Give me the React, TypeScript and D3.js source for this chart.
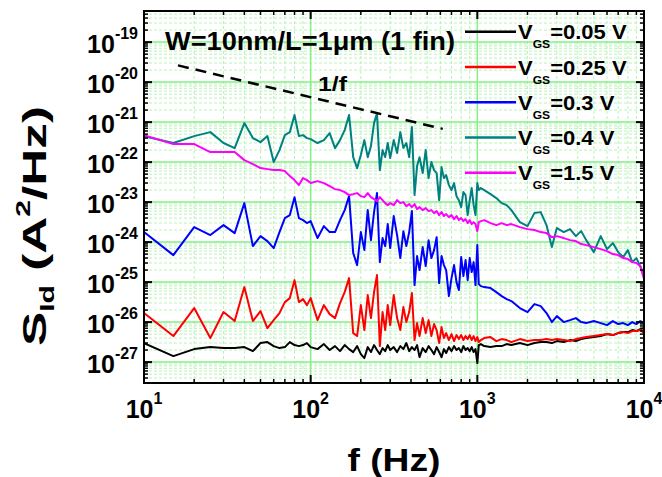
import React from 'react';
import * as d3 from 'd3';

// Frequencies (Hz), shared by all series
const freqs = [
  10, 15, 20, 25, 30, 35, 40, 45, 50, 55, 60, 65, 70, 75, 80, 85, 90, 95,
  100, 110, 120, 130, 140, 150, 160, 170, 180, 190, 200, 210, 220, 230, 240, 250, 260, 270, 280, 290, 300,
  315, 330, 345, 360, 375, 390, 405, 420, 435, 450,
  470, 490, 510, 530, 550, 570, 590, 610, 630, 650,
  675, 700, 725, 750, 775, 800, 825, 850, 875, 900, 925, 950, 975, 1000, 1020,
  1050, 1100, 1200, 1300, 1400, 1500, 1600, 1800, 2000, 2200, 2400, 2600, 2800, 3000, 3300, 3600, 3900, 4200, 4500, 5000,
  5500, 6000, 6500, 7000, 7500, 8000, 8500, 9000, 9500, 10000,
];

// S_Id (A^2/Hz) for VGS = 0.05 V
const sVgs005 = [
  2.99e-27, 1.41e-27, 2.11e-27, 2.37e-27, 2.24e-27, 2.24e-27, 2.37e-27, 1.88e-27, 2.99e-27, 3.16e-27, 2.51e-27, 2.24e-27, 2.37e-27, 3.16e-27, 2.66e-27, 2.51e-27, 2.66e-27, 2.99e-27,
  2.37e-27, 2.11e-27, 2.82e-27, 2.0e-27, 2.51e-27, 1.88e-27, 2.66e-27, 2.11e-27, 1.78e-27, 2.51e-27, 1.58e-27, 1.26e-27, 2.37e-27, 1.78e-27, 2.66e-27, 2.0e-27, 1.58e-27, 2.24e-27, 1.88e-27, 2.66e-27, 2.0e-27,
  2.37e-27, 1.78e-27, 2.51e-27, 2.11e-27, 2.99e-27, 1.88e-27, 2.37e-27, 2.0e-27, 2.66e-27, 1.33e-27,
  2.24e-27, 1.78e-27, 2.51e-27, 2.0e-27, 1.58e-27, 2.37e-27, 1.78e-27, 1.33e-27, 2.11e-27, 1.68e-27,
  2.37e-27, 1.88e-27, 2.51e-27, 2.0e-27, 2.24e-27, 1.78e-27, 2.51e-27, 2.0e-27, 2.24e-27, 1.88e-27, 2.37e-27, 1.78e-27, 2.11e-27, 9.44e-28, 2.66e-27,
  2.82e-27, 2.51e-27, 2.37e-27, 2.51e-27, 2.51e-27, 2.82e-27, 2.66e-27, 2.99e-27, 2.66e-27, 2.99e-27, 3.16e-27, 3.16e-27, 2.99e-27, 3.35e-27, 3.16e-27, 3.55e-27, 3.35e-27, 3.76e-27, 3.98e-27, 4.22e-27,
  4.47e-27, 5.01e-27, 4.73e-27, 5.31e-27, 5.62e-27, 5.62e-27, 6.31e-27, 5.96e-27, 6.68e-27, 7.08e-27,
];

// VGS = 0.25 V
const sVgs025 = [
  1.68e-26, 4.47e-27, 2.24e-26, 3.98e-27, 1.78e-26, 1.06e-26, 7.5e-26, 1.06e-26, 1.88e-26, 7.08e-27, 1.12e-26, 1.68e-26, 3.16e-26, 3.98e-26, 1.12e-25, 3.16e-26, 3.76e-26, 2.66e-26,
  3.98e-26, 1.12e-26, 2.66e-26, 1.58e-26, 1.26e-26, 2.99e-26, 5.62e-26, 1.26e-25, 5.31e-27, 4.47e-27, 2.66e-26, 6.31e-27, 4.73e-26, 1.26e-26, 5.62e-26, 1.5e-25, 2.51e-27, 1.78e-26, 6.31e-27, 2.66e-26, 8.41e-27,
  4.73e-26, 1.26e-26, 6.31e-27, 2.37e-26, 1.0e-26, 1.78e-26, 5.31e-26, 3.55e-27, 9.44e-27, 4.47e-27,
  1.26e-26, 5.31e-27, 1.12e-26, 4.47e-27, 8.91e-27, 6.31e-27, 2.99e-27, 7.5e-27, 3.98e-27, 5.31e-27,
  3.55e-27, 5.01e-27, 3.35e-27, 4.73e-27, 3.76e-27, 4.73e-27, 3.55e-27, 4.47e-27, 3.76e-27, 4.73e-27, 3.55e-27, 4.47e-27, 3.35e-27, 4.22e-27, 3.16e-27,
  3.55e-27, 3.98e-27, 4.22e-27, 3.35e-27, 3.76e-27, 3.55e-27, 3.16e-27, 3.76e-27, 3.35e-27, 3.55e-27, 3.55e-27, 3.76e-27, 3.55e-27, 3.76e-27, 3.55e-27, 3.35e-27, 3.76e-27, 3.98e-27, 4.22e-27, 4.47e-27,
  4.73e-27, 5.01e-27, 4.73e-27, 5.31e-27, 5.62e-27, 5.31e-27, 5.96e-27, 5.96e-27, 6.31e-27, 5.31e-27,
];

// VGS = 0.3 V
const sVgs03 = [
  1.78e-24, 4.73e-25, 2.37e-24, 1.5e-24, 2.66e-24, 1.68e-24, 9.44e-24, 7.94e-25, 1.41e-24, 1.06e-24, 7.08e-25, 1.78e-24, 3.98e-24, 4.73e-24, 1.33e-23, 3.98e-24, 3.55e-24, 2.99e-24,
  3.35e-24, 1.26e-24, 2.51e-24, 1.78e-24, 1.78e-24, 3.55e-24, 6.31e-24, 1.41e-23, 5.31e-25, 2.66e-25, 1.78e-24, 6.31e-25, 6.31e-24, 1.12e-24, 5.62e-24, 1.68e-23, 3.16e-25, 1.26e-24, 7.94e-25, 2.82e-24, 7.08e-25,
  4.47e-24, 1.5e-24, 3.98e-25, 1.88e-24, 7.94e-25, 1.78e-24, 5.96e-24, 8.41e-26, 4.47e-25, 2.0e-25,
  7.5e-25, 2.51e-25, 1.12e-24, 3.98e-25, 6.31e-25, 1.33e-24, 9.44e-26, 4.47e-25, 2.66e-25, 2.0e-25,
  4.47e-26, 1.26e-25, 2.66e-25, 1.0e-25, 6.31e-26, 4.22e-25, 1.41e-25, 3.55e-25, 1.12e-25, 3.98e-25, 1.78e-25, 3.16e-25, 8.41e-26, 8.41e-25, 8.91e-26,
  7.94e-26, 7.5e-26, 7.08e-26, 5.62e-26, 4.47e-26, 3.76e-26, 3.35e-26, 2.24e-26, 1.78e-26, 2.82e-26, 2.51e-26, 1.68e-26, 1.0e-26, 1.41e-26, 1.0e-26, 1.12e-26, 1.26e-26, 1.0e-26, 9.44e-27, 1.06e-26,
  9.44e-27, 8.41e-27, 1.06e-26, 8.91e-27, 9.44e-27, 8.41e-27, 1.0e-26, 8.91e-27, 1.06e-26, 9.44e-27,
];

// VGS = 0.4 V
const sVgs04 = [
  4.47e-22, 3.0e-22, 4.47e-22, 5.62e-22, 3.0e-22, 2.24e-22, 9.44e-22, 3.98e-22, 3.16e-22, 4.47e-22, 1.0e-22, 2.0e-22, 4.73e-22, 5.62e-22, 1.5e-21, 4.47e-22, 4.73e-22, 3.98e-22,
  3.76e-22, 3.0e-22, 3.55e-22, 5.31e-22, 2.24e-22, 3.55e-22, 6.31e-22, 1.5e-21, 1.33e-22, 7.08e-23, 1.5e-22, 3.55e-22, 1.33e-22, 2.51e-22, 9.44e-22, 1.68e-21, 6.31e-23, 2.0e-22, 1.33e-22, 3.0e-22, 1.26e-22,
  3.55e-22, 1.68e-22, 5.62e-22, 2.24e-22, 3.0e-22, 1.33e-22, 7.5e-22, 1.5e-23, 7.94e-23, 1.33e-22,
  5.31e-23, 2.0e-22, 3.98e-23, 1.0e-22, 6.31e-23, 5.31e-23, 1.12e-23, 7.5e-23, 3.98e-23, 4.73e-23,
  2.66e-23, 2.0e-23, 2.99e-23, 1.41e-23, 1.12e-23, 7.5e-24, 1.78e-23, 1.5e-23, 4.73e-24, 1.12e-23, 2.24e-23, 8.41e-24, 4.73e-24, 2.99e-23, 2.0e-23,
  2.24e-23, 2.0e-23, 1.58e-23, 1.26e-23, 9.44e-24, 8.41e-24, 6.31e-24, 3.16e-24, 2.51e-24, 5.31e-24, 5.62e-24, 2.66e-24, 7.5e-25, 2.24e-24, 1.78e-24, 2.11e-24, 1.41e-24, 1.88e-24, 1.12e-24, 5.62e-25,
  1.41e-24, 6.68e-25, 9.44e-25, 5.62e-25, 4.22e-25, 6.31e-25, 3.16e-25, 3.98e-25, 2.51e-25, 1.5e-25,
];

// VGS = 1.5 V
const sVgs15 = [
  4.73e-22, 2.82e-22, 2.82e-22, 1.78e-22, 1.78e-22, 1.78e-22, 1.12e-22, 8.91e-23, 7.08e-23, 6.68e-23, 6.31e-23, 6.31e-23, 5.96e-23, 4.47e-23, 3.55e-23, 2.66e-23, 3.98e-23, 3.55e-23,
  2.99e-23, 3.35e-23, 2.99e-23, 2.51e-23, 2.11e-23, 2.0e-23, 1.78e-23, 1.5e-23, 1.58e-23, 1.68e-23, 1.41e-23, 1.33e-23, 1.68e-23, 1.33e-23, 1.19e-23, 1.06e-23, 1.33e-23, 1.12e-23, 9.44e-24, 8.41e-24, 9.44e-24,
  8.41e-24, 1.12e-23, 9.44e-24, 1.0e-23, 7.94e-24, 8.91e-24, 7.5e-24, 8.91e-24, 6.68e-24, 7.5e-24,
  6.31e-24, 7.08e-24, 5.96e-24, 6.31e-24, 5.31e-24, 5.96e-24, 4.73e-24, 5.62e-24, 4.47e-24, 5.01e-24,
  4.22e-24, 4.73e-24, 3.76e-24, 4.47e-24, 3.55e-24, 3.98e-24, 3.35e-24, 3.76e-24, 2.99e-24, 3.55e-24, 2.82e-24, 3.16e-24, 2.82e-24, 1.88e-24, 3.16e-24,
  3.35e-24, 3.55e-24, 2.99e-24, 2.66e-24, 2.99e-24, 2.66e-24, 2.82e-24, 2.37e-24, 2.11e-24, 2.0e-24, 1.78e-24, 1.68e-24, 1.33e-24, 1.41e-24, 1.26e-24, 1.12e-24, 1.06e-24, 8.91e-25, 8.41e-25, 7.5e-25,
  6.68e-25, 5.96e-25, 5.01e-25, 4.73e-25, 3.98e-25, 3.76e-25, 3.16e-25, 2.99e-25, 2.51e-25, 1.19e-25,
];

const seriesValues = [sVgs005, sVgs025, sVgs03, sVgs04, sVgs15];
const seriesLabels = ['0.05', '0.25', '0.3', '0.4', '1.5'];
const seriesColors = ['#000000', '#ff0000', '#0000ff', '#008080', '#ff00ff'];

// 1/f reference line
const refFreqs = [16, 620];
const refValues = [2.62e-20, 6.77e-22];

const xTickExps = [1, 2, 3, 4];
const yTickExps = [-27, -26, -25, -24, -23, -22, -21, -20, -19];

const W = 662;
const H = 477;
const L = 144, R = 644, T = 11, B = 383;
const FONT = '"Liberation Sans", Arial, Helvetica, sans-serif';

export default function App() {
  const x = d3.scaleLog().domain([10, 1e4]).range([L, R]);
  const y = d3.scaleLog().domain([3e-28, 6e-19]).range([B, T]);

  const xMajor = [10, 100, 1000, 10000];
  const xMinor: number[] = [];
  [10, 100, 1000].forEach((d) => { for (let k = 2; k <= 9; k++) xMinor.push(k * d); });
  const yMajor: number[] = yTickExps.map((e) => Math.pow(10, e));
  const yMinor: number[] = [];
  for (let e = -28; e <= -19; e++) {
    for (let k = 2; k <= 9; k++) {
      const v = k * Math.pow(10, e);
      if (v >= 3e-28 && v <= 6e-19) yMinor.push(v);
    }
  }

  const line = d3.line<number>()
    .x((_, i) => x(freqs[i]))
    .y((d) => y(d));

  const refLine = d3.line<number>()
    .x((_, i) => x(refFreqs[i]))
    .y((d) => y(d));

  const majorGrid = '#86ef86';
  const minorGrid = '#b9f3b9';

  return (
    <svg width={W} height={H} style={{ position: 'absolute', left: 0, top: 0, background: '#fff' }} fontFamily={FONT}>
      <defs>
        <clipPath id="plot">
          <rect x={L} y={T} width={R - L} height={B - T} />
        </clipPath>
      </defs>
      <rect x={0} y={0} width={W} height={H} fill="#fff" />
      {/* minor grid */}
      {xMinor.map((v, i) => (
        <line key={'xm' + i} x1={x(v)} x2={x(v)} y1={T} y2={B} stroke={minorGrid} strokeWidth={1} strokeDasharray="3,2" />
      ))}
      {yMinor.map((v, i) => (
        <line key={'ym' + i} x1={L} x2={R} y1={y(v)} y2={y(v)} stroke={minorGrid} strokeWidth={1} strokeDasharray="3,2" />
      ))}
      {/* major grid */}
      {xMajor.map((v, i) => (
        <line key={'xM' + i} x1={x(v)} x2={x(v)} y1={T} y2={B} stroke={majorGrid} strokeWidth={1.5} />
      ))}
      {yMajor.map((v, i) => (
        <line key={'yM' + i} x1={L} x2={R} y1={y(v)} y2={y(v)} stroke={majorGrid} strokeWidth={1.5} />
      ))}

      {/* series */}
      <g clipPath="url(#plot)">
        {seriesValues.map((vals, i) => (
          <path key={'s' + i} d={line(vals) || ''} fill="none" stroke={seriesColors[i]} strokeWidth={2} strokeLinejoin="round" />
        ))}
        <path d={refLine(refValues) || ''} fill="none" stroke="#000" strokeWidth={2.5} strokeDasharray="11,7" />
      </g>

      {/* frame and ticks */}
      <rect x={L} y={T} width={R - L} height={B - T} fill="none" stroke="#000" strokeWidth={2} />
      {xMajor.map((v, i) => (
        <g key={'xt' + i}>
          <line x1={x(v)} x2={x(v)} y1={B} y2={B - 8} stroke="#000" strokeWidth={2} />
          <line x1={x(v)} x2={x(v)} y1={T} y2={T + 8} stroke="#000" strokeWidth={2} />
        </g>
      ))}
      {xMinor.map((v, i) => (
        <g key={'xmt' + i}>
          <line x1={x(v)} x2={x(v)} y1={B} y2={B - 4} stroke="#000" strokeWidth={1.5} />
          <line x1={x(v)} x2={x(v)} y1={T} y2={T + 4} stroke="#000" strokeWidth={1.5} />
        </g>
      ))}
      {yMajor.map((v, i) => (
        <g key={'yt' + i}>
          <line x1={L} x2={L + 8} y1={y(v)} y2={y(v)} stroke="#000" strokeWidth={2} />
          <line x1={R} x2={R - 8} y1={y(v)} y2={y(v)} stroke="#000" strokeWidth={2} />
        </g>
      ))}
      {yMinor.map((v, i) => (
        <g key={'ymt' + i}>
          <line x1={L} x2={L + 4} y1={y(v)} y2={y(v)} stroke="#000" strokeWidth={1.5} />
          <line x1={R} x2={R - 4} y1={y(v)} y2={y(v)} stroke="#000" strokeWidth={1.5} />
        </g>
      ))}

      {/* tick labels */}
      {yTickExps.map((e, i) => (
        <text key={'yl' + i} x={138} y={y(Math.pow(10, e)) + 10.5} textAnchor="end" fontSize={25} fontWeight="bold">
          10<tspan fontSize={16} dy={-14}>{String(e)}</tspan>
        </text>
      ))}
      {xTickExps.map((e, i) => (
        <text key={'xl' + i} x={x(Math.pow(10, e))} y={418} textAnchor="middle" fontSize={25} fontWeight="bold">
          10<tspan fontSize={16} dy={-14}>{String(e)}</tspan>
        </text>
      ))}

      {/* axis titles */}
      <text x={394} y={471} textAnchor="middle" fontSize={32} fontWeight="bold" textLength={93} lengthAdjust="spacingAndGlyphs">f (Hz)</text>
      <text transform="translate(46,226) rotate(-90)" textAnchor="middle" fontSize={34} fontWeight="bold" textLength={240} lengthAdjust="spacingAndGlyphs">
        S<tspan fontSize={20} dy={8}>Id</tspan><tspan dy={-8}> (A</tspan><tspan fontSize={20} dy={-16}>2</tspan><tspan dy={16}>/Hz)</tspan>
      </text>

      {/* annotations */}
      <text x={165} y={50} fontSize={25} fontWeight="bold" textLength={290} lengthAdjust="spacingAndGlyphs">W=10nm/L=1μm (1 fin)</text>
      <text x={318} y={91} fontSize={21} fontWeight="bold" textLength={29} lengthAdjust="spacingAndGlyphs">1/f</text>

      {/* legend */}
      {seriesLabels.map((lab, i) => {
        const ly = 31.7 + 35.25 * i;
        return (
          <g key={'lg' + i}>
            <line x1={465} x2={516} y1={ly} y2={ly} stroke={seriesColors[i]} strokeWidth={2.5} />
            <g transform={`translate(518,${ly + 7.6}) scale(1.1,1)`}>
              <text x={0} y={0} fontSize={20} fontWeight="bold">
                V<tspan fontSize={11} dy={9}>GS</tspan><tspan dy={-9}>{'=' + lab + ' V'}</tspan>
              </text>
            </g>
          </g>
        );
      })}
    </svg>
  );
}
